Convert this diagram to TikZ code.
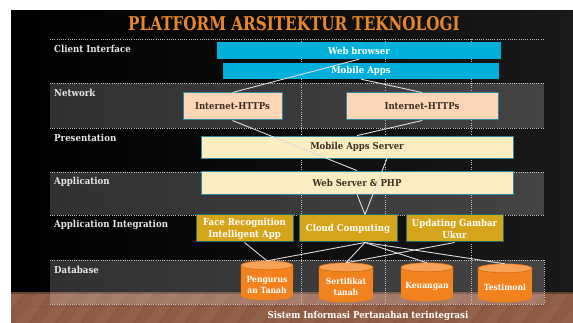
\documentclass[tikz,border=0pt]{standalone}
\usepackage{fontspec}
\setmainfont[FakeStretch=0.9]{DejaVu Serif}
\newfontfamily\titlefont[FakeStretch=0.8]{DejaVu Serif}
\usetikzlibrary{calc}

\definecolor{slidecyan}{HTML}{00B0DA}
\definecolor{peach}{HTML}{FBD5B5}
\definecolor{paleyellow}{HTML}{FAEEC0}
\definecolor{gold}{HTML}{D6A41B}
\definecolor{tealedge}{HTML}{31859C}
\definecolor{darkteal}{HTML}{1F6F6F}
\definecolor{drumbody}{HTML}{F2821E}
\definecolor{drumtop}{HTML}{F8A257}
\definecolor{drumedge}{HTML}{D96A10}
\definecolor{titleorange}{HTML}{E8862C}
\definecolor{inktext}{HTML}{3B2F22}
\definecolor{linkgray}{HTML}{DCDCDC}
\definecolor{gridgray}{HTML}{BEBEBE}
\definecolor{bgmid}{HTML}{454545}
\definecolor{bgright}{HTML}{1A1A1A}
\definecolor{wood}{HTML}{8E5C45}
\definecolor{woodlight}{HTML}{A9755C}
\definecolor{wooddark}{HTML}{6E4332}

% database drum: name, centre, width, height, label
\newcommand\dbdrum[5]{%
  \node[dbslot, minimum width=#3, minimum height=#4] (#1) at #2 {};
  \fill[drumbody] ([yshift=-4.5pt]#1.north west) -- ([yshift=4.5pt]#1.south west)
    arc[start angle=180, end angle=360, x radius={#3pt/2}, y radius=4.5pt]
    -- ([yshift=-4.5pt]#1.north east) -- cycle;
  \filldraw[fill=drumtop, draw=drumedge, line width=0.6pt]
    ([yshift=-4.5pt]#1.north) ellipse[x radius={#3pt/2}, y radius=4.5pt];
  \node[dbtext] at ([yshift=-4pt]#1.center) {#5};
}

\begin{document}
\begin{tikzpicture}[x=1pt, y=-1pt,
  dbslot/.style={rectangle, inner sep=0pt, draw=none},
  dbtext/.style={text=white, font=\bfseries\fontsize{8.5}{11}\selectfont, align=center},
  boxbase/.style={rectangle, inner sep=0pt, align=center,
    font=\bfseries\fontsize{9.5}{12}\selectfont},
  cyanbox/.style={boxbase, fill=slidecyan, text=white},
  peachbox/.style={boxbase, fill=peach, draw=tealedge, line width=1pt, text=inktext},
  creambox/.style={boxbase, fill=paleyellow, draw=tealedge, line width=0.8pt, text=inktext},
  goldbox/.style={boxbase, fill=gold, draw=darkteal, line width=1pt, text=white},
  layerlabel/.style={anchor=west, text=white!90!black, inner sep=0pt,
    font=\bfseries\fontsize{9.6}{11}\selectfont},
  gridline/.style={draw=gridgray, line width=0.6pt, dash pattern=on 1pt off 1.2pt},
  bandfill/.style={fill=white, fill opacity=0.19},
  link/.style={draw=linkgray, line width=0.9pt}
]

% page and slide background
\fill[white] (0,0) rectangle (573,323);
\useasboundingbox (0,0) rectangle (573,323);
\shade[left color=black, middle color=bgmid, right color=bgright] (11,11) rectangle (573,292);

% wooden floor
\fill[wood] (11,292) rectangle (573,323);
\begin{scope}
  \clip (11,292) rectangle (573,323);
  \foreach \i in {0,...,24} {
    \fill[woodlight, opacity=0.22] (\i*26-10,323) -- (\i*26+2,323) -- (\i*26+24,292) -- (\i*26+12,292) -- cycle;
    \draw[wooddark, line width=0.4pt, opacity=0.35] (\i*26+4,323) -- (\i*26+27,292);
  }
  \draw[wooddark, line width=0.4pt, opacity=0.35] (11,307) -- (573,305);
\end{scope}
\fill[black, opacity=0.3] (11,291) rectangle (573,293.5);

% layer bands
\fill[bandfill] (50,83) rectangle (544,128);
\fill[bandfill] (50,172) rectangle (544,215);
\fill[bandfill] (50,260) rectangle (544,304);
\foreach \y in {39,83,128,172,215,260,304}
  \draw[gridline] (50,\y) -- (544,\y);
\foreach \x in {301,385,471}
  \draw[gridline] (\x,39) -- (\x,304);
\draw[gridline] (544,260) -- (544,304);

% title
\node[text=titleorange, font=\titlefont\bfseries\fontsize{19}{20}\selectfont, inner sep=0pt]
  (title) at (294,24) {PLATFORM ARSITEKTUR TEKNOLOGI};

% layer names
\node[layerlabel] (lclient) at (54,49) {Client Interface};
\node[layerlabel] (lnet) at (54,93) {Network};
\node[layerlabel] (lpres) at (54,138) {Presentation};
\node[layerlabel] (lapp) at (54,182) {Application};
\node[layerlabel] (lint) at (54,225) {Application Integration};
\node[layerlabel] (ldb) at (54,270) {Database};

% client interface
\node[cyanbox, minimum width=284, minimum height=17] (web) at (359,50.5) {Web browser};
\node[cyanbox, minimum width=276, minimum height=16] (mob) at (361,71) {Mobile Apps};

% network
\node[peachbox, minimum width=99, minimum height=27] (net1) at (232.5,106.5) {Internet-HTTPs};
\node[peachbox, minimum width=152, minimum height=27] (net2) at (422,106.5) {Internet-HTTPs};

% presentation and application
\node[creambox, minimum width=312, minimum height=22] (mas) at (357,147) {Mobile Apps Server};
\node[creambox, minimum width=312, minimum height=23] (wsp) at (357,182.5) {Web Server \& PHP};

% application integration
\node[goldbox, minimum width=97, minimum height=27] (face) at (244.5,228.5) {Face Recognition\\Intelligent App};
\node[goldbox, minimum width=98, minimum height=27] (cloud) at (348,228.5) {Cloud Computing};
\node[goldbox, minimum width=97, minimum height=27] (upd) at (454.5,228.5) {Updating Gambar\\Ukur};

% database
\dbdrum{db1}{(267,280.5)}{52}{39}{Pengurus\\an Tanah}
\dbdrum{db2}{(346,282.5)}{54}{39}{Sertifikat\\tanah}
\dbdrum{db3}{(427,282)}{52}{38}{Keuangan}
\dbdrum{db4}{(505,283)}{54}{38}{Testimoni}

% connectors
\draw[link] (web.south) -- (net1.north);
\draw[link] (mob.south) -- (net2.north);
\draw[link] (net1.south) -- (wsp.north);
\draw[link] (net2.south) -- (mas.north);
\draw[link] ([xshift=30pt]mas.south) -- ([xshift=17pt]cloud.north);
\draw[link] (wsp.south) -- ([xshift=17pt]cloud.north);
\draw[link] (face.south) -- (db1.north);
\foreach \d in {db1,db2,db3,db4}
  \draw[link] ([xshift=17pt]cloud.south) -- (\d.north);
\draw[link] (upd.south) -- (db2.north);

% caption
\node[text=white, font=\bfseries\fontsize{9.5}{10}\selectfont, inner sep=0pt] (caption) at (368,316)
  {Sistem Informasi Pertanahan terintegrasi};

\end{tikzpicture}
\end{document}
